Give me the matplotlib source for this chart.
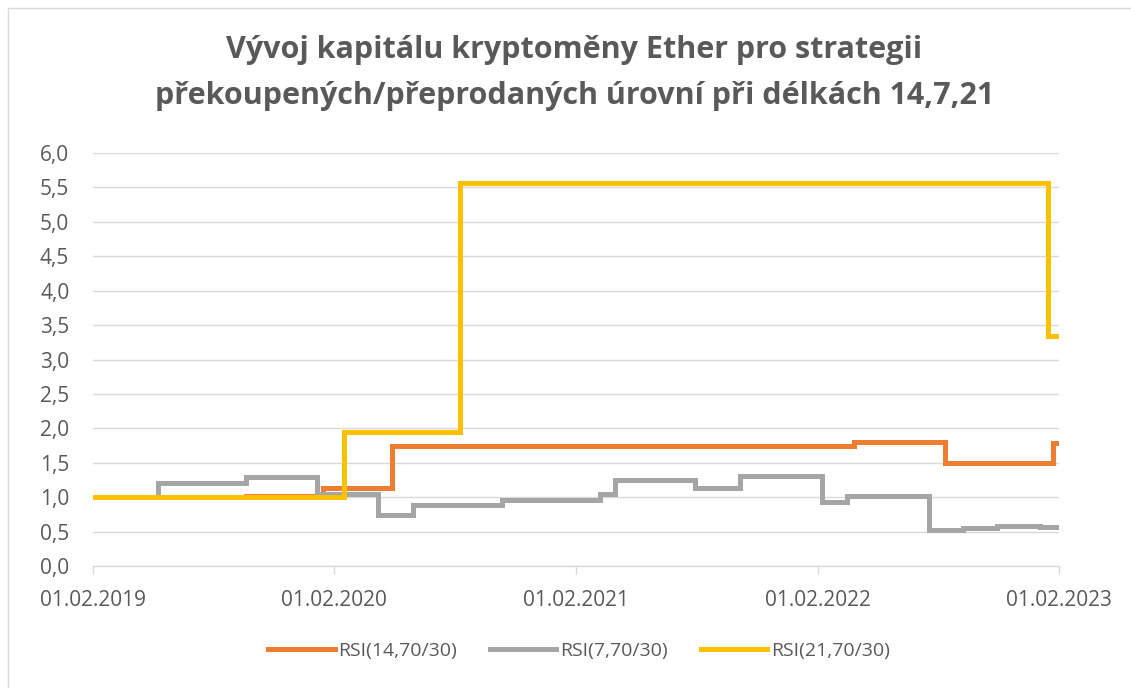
import matplotlib.pyplot as plt
from matplotlib.patches import Rectangle
import numpy as np
import pandas as pd

plt.rcParams['font.family'] = ['Open Sans', 'DejaVu Sans']

# change dates and levels of each step series (value holds until next date)
rsi14_dates = ['2019-02-01', '2019-09-20', '2020-01-15', '2020-04-28',
               '2022-03-28', '2022-08-13', '2023-01-23', '2023-02-01']
rsi14_vals = [1.00, 1.02, 1.14, 1.75, 1.80, 1.49, 1.78, 1.78]

rsi7_dates = ['2019-02-01', '2019-05-11', '2019-09-20', '2020-01-06', '2020-04-07',
              '2020-05-30', '2020-10-11', '2021-03-09', '2021-03-31', '2021-07-30',
              '2021-10-07', '2022-02-07', '2022-03-17', '2022-07-20', '2022-09-09',
              '2022-10-30', '2023-01-03', '2023-02-01']
rsi7_vals = [1.00, 1.20, 1.30, 1.05, 0.74, 0.88, 0.96, 1.04, 1.25, 1.14,
             1.31, 0.93, 1.01, 0.52, 0.55, 0.58, 0.56, 0.56]

rsi21_dates = ['2019-02-01', '2020-02-16', '2020-08-09', '2023-01-15', '2023-02-01']
rsi21_vals = [1.00, 1.95, 5.57, 3.34, 3.34]

labels = ['RSI(14,70/30)', 'RSI(7,70/30)', 'RSI(21,70/30)']
colors = ['#ED7D31', '#A5A5A5', '#FFC000']
tick_dates = ['2019-02-01', '2020-02-01', '2021-02-01', '2022-02-01', '2023-02-01']

fig = plt.figure(figsize=(11.31, 6.88), dpi=100)
ax = fig.add_axes([0.0822, 0.1773, 0.8542, 0.6003])

series = [(rsi14_dates, rsi14_vals), (rsi7_dates, rsi7_vals), (rsi21_dates, rsi21_vals)]
for i in [1, 0, 2]:
    d, v = series[i]
    ax.step(pd.to_datetime(d), v, where='post', color=colors[i], lw=3.6,
            label=labels[i], solid_joinstyle='miter', zorder=3 + i)

ax.set_ylim(0, 6)
yt = np.arange(0, 6.01, 0.5)
ax.set_yticks(yt)
ax.set_yticklabels([f'{t:.1f}'.replace('.', ',') for t in yt])
ticks = pd.to_datetime(tick_dates)
ax.set_xlim(ticks[0], ticks[-1])
ax.set_xticks(ticks)
ax.set_xticklabels([t.strftime('%d.%m.%Y') for t in ticks])

ax.grid(axis='y', color='#D9D9D9', lw=1.0)
ax.set_axisbelow(True)
for s in ['top', 'right', 'left']:
    ax.spines[s].set_visible(False)
ax.spines['bottom'].set_color('#D9D9D9')
ax.spines['bottom'].set_linewidth(1.0)
ax.tick_params(axis='y', length=0, pad=17, labelsize=15, labelcolor='#595959')
ax.tick_params(axis='x', length=6, width=1, color='#D9D9D9', pad=11,
               labelsize=15, labelcolor='#595959')

fig.text(0.508, 0.927, 'Vývoj kapitálu kryptoměny Ether pro strategii', ha='center',
         va='center', fontsize=22, fontweight='bold', color='#595959')
fig.text(0.508, 0.861, 'překoupených/přeprodaných úrovní při délkách 14,7,21', ha='center',
         va='center', fontsize=22, fontweight='bold', color='#595959')

h, l = ax.get_legend_handles_labels()
idx = [l.index(x) for x in labels]
fig.legend([h[k] for k in idx], [l[k] for k in idx], loc='center',
           bbox_to_anchor=(0.512, 0.054), ncol=3, frameon=False, fontsize=14,
           labelcolor='#595959', handlelength=3.4, handletextpad=0.2, columnspacing=1.7)

fig.patches.append(Rectangle((8 / 1131, -0.1), 1.2, 1.1 - 8 / 688, transform=fig.transFigure,
                             fill=False, edgecolor='#D9D9D9', lw=1.0))

fig.savefig('out.png', dpi=100)
